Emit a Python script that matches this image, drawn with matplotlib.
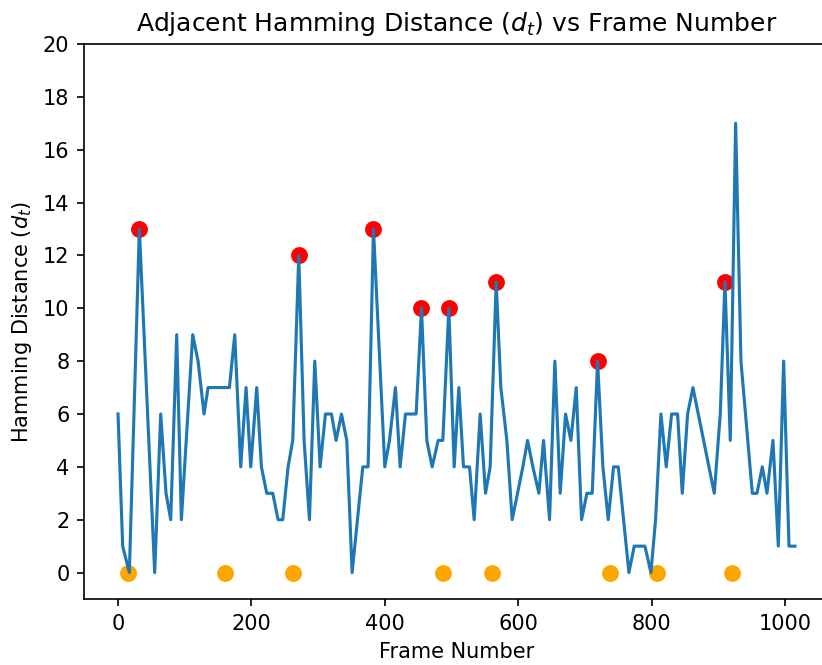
import numpy as np
import matplotlib
matplotlib.use("Agg")
import matplotlib.pyplot as plt

frames = [0, 7, 17, 32, 55, 64, 72, 79, 88, 95, 112, 120, 129, 135, 167, 175,
          184, 192, 199, 208, 215, 223, 232, 240, 247, 255, 262, 271, 279, 287,
          295, 303, 311, 320, 327, 335, 343, 351, 367, 375, 383, 400, 407, 416,
          423, 431, 447, 455, 463, 471, 480, 487, 496, 504, 511, 518, 527, 534,
          543, 551, 558, 567, 574, 583, 591, 599, 607, 614, 622, 631, 638, 647,
          655, 663, 671, 679, 687, 695, 703, 711, 719, 727, 735, 743, 750, 766,
          774, 790, 799, 806, 814, 822, 830, 839, 846, 854, 862, 894, 903, 910,
          918, 926, 934, 951, 958, 966, 973, 982, 990, 998, 1006, 1015]
dist = [6, 1, 0, 13, 0, 6, 3, 2, 9, 2, 9, 8, 6, 7, 7, 9,
        4, 7, 4, 7, 4, 3, 3, 2, 2, 4, 5, 12, 5, 2,
        8, 4, 6, 6, 5, 6, 5, 0, 4, 4, 13, 4, 5, 7,
        4, 6, 6, 10, 5, 4, 5, 5, 10, 4, 7, 4, 4, 2,
        6, 3, 4, 11, 7, 5, 2, 3, 4, 5, 4, 3, 5, 2,
        8, 3, 6, 5, 7, 2, 3, 3, 8, 4, 2, 4, 4, 0,
        1, 1, 0, 2, 6, 4, 6, 6, 3, 6, 7, 3, 6, 11,
        5, 17, 8, 3, 3, 4, 3, 5, 1, 8, 1, 1]

# detected peaks (red) and reference frames (orange)
peak_frames = [32, 271, 383, 455, 496, 567, 719, 910]
peak_values = [13, 12, 13, 10, 10, 11, 8, 11]
ref_frames = [15, 160, 263, 488, 560, 737, 808, 920]
ref_values = [0, 0, 0, 0, 0, 0, 0, 0]

fig = plt.figure(figsize=(822 / 150, 665 / 150), dpi=150)
# the original is cropped on the right, so the axes run past the figure edge
ax = fig.add_axes([84 / 822, 66 / 665, 745 / 822, 555 / 665])
ax.spines['right'].set_visible(False)

ax.scatter(peak_frames, peak_values, color='red', s=50)
ax.plot(frames, dist)
ax.scatter(ref_frames, ref_values, color='orange', s=50)

ax.set_xlim(-51, 1066)
ax.set_ylim(-1, 20)
ax.set_yticks(np.arange(0, 21, 2))
ax.set_xticks([0, 200, 400, 600, 800, 1000])
ax.set_title('Adjacent Hamming Distance ($d_t$) vs Frame Number')
ax.set_xlabel('Frame Number')
ax.set_ylabel('Hamming Distance ($d_t$)')

fig.savefig('out.png', dpi=150)
